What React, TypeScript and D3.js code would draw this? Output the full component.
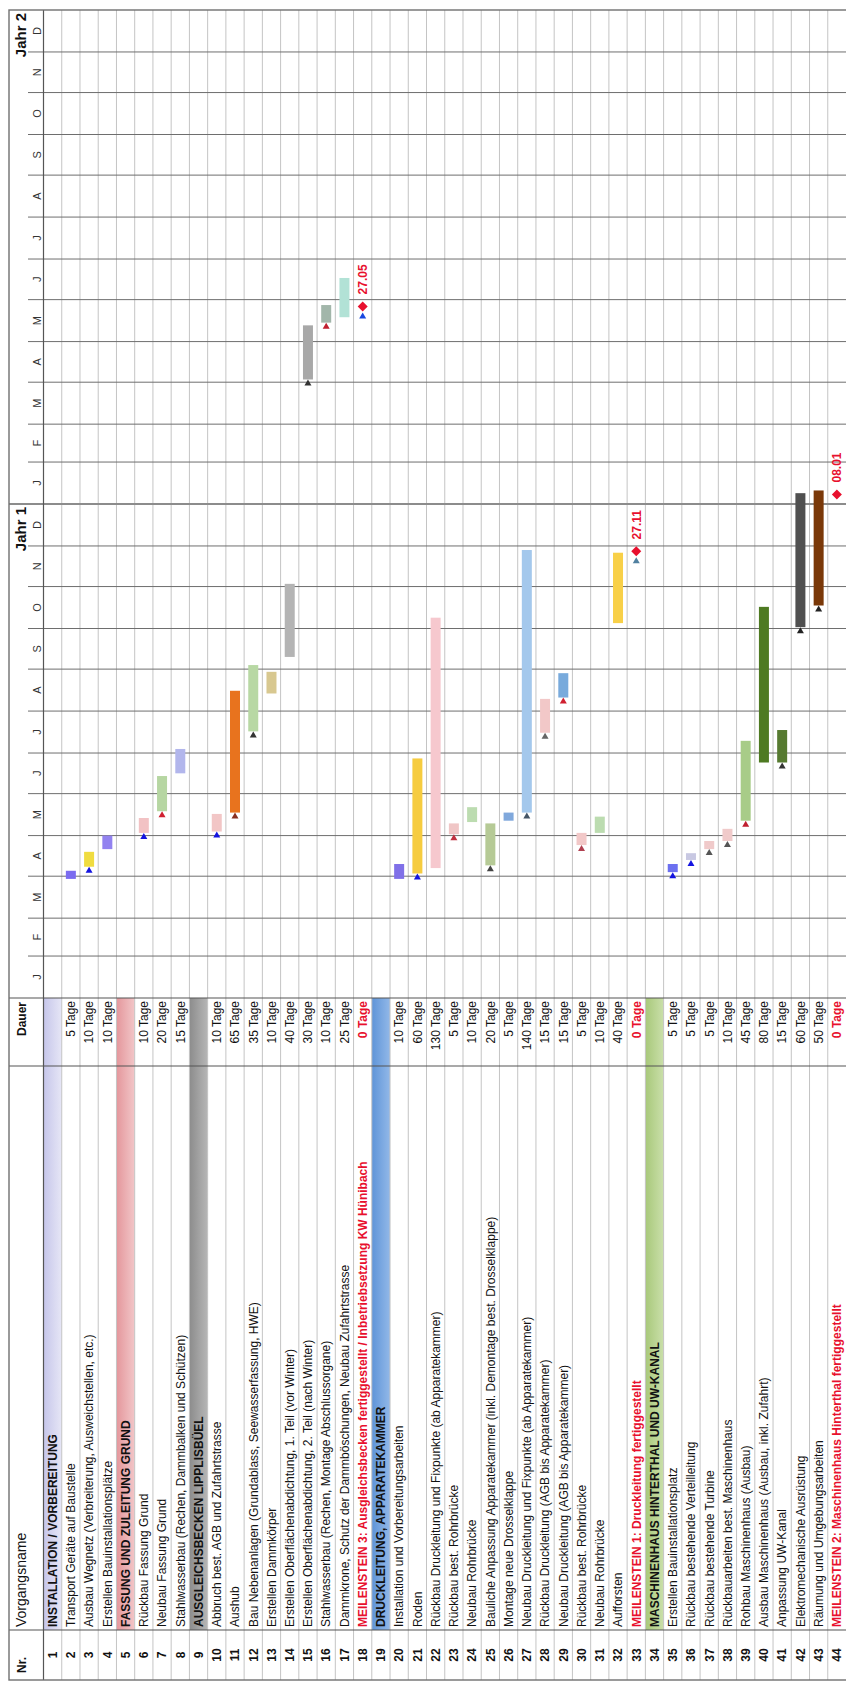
import React from "react";
import * as d3 from "d3";

const taskNames = [
  "INSTALLATION / VORBEREITUNG",
  "Transport Geräte auf Baustelle",
  "Ausbau Wegnetz (Verbreiterung, Ausweichstellen, etc.)",
  "Erstellen Bauinstallationsplätze",
  "FASSUNG UND ZULEITUNG GRUND",
  "Rückbau Fassung Grund",
  "Neubau Fassung Grund",
  "Stahlwasserbau (Rechen, Dammbalken und Schützen)",
  "AUSGLEICHSBECKEN LIPPLISBÜEL",
  "Abbruch best. AGB und Zufahrtstrasse",
  "Aushub",
  "Bau Nebenanlagen (Grundablass, Seewasserfassung, HWE)",
  "Erstellen Dammkörper",
  "Erstellen Oberflächenabdichtung, 1. Teil (vor Winter)",
  "Erstellen Oberflächenabdichtung, 2. Teil (nach Winter)",
  "Stahlwasserbau (Rechen, Montage Abschlussorgane)",
  "Dammkrone, Schutz der Dammböschungen, Neubau Zufahrtstrasse",
  "MEILENSTEIN 3: Ausgleichsbecken fertiggestellt / Inbetriebsetzung KW Hünibach",
  "DRUCKLEITUNG, APPARATEKAMMER",
  "Installation und Vorbereitungsarbeiten",
  "Roden",
  "Rückbau Druckleitung und Fixpunkte (ab Apparatekammer)",
  "Rückbau best. Rohrbrücke",
  "Neubau Rohrbrücke",
  "Bauliche Anpassung Apparatekammer (inkl. Demontage best. Drosselklappe)",
  "Montage neue Drosselklappe",
  "Neubau Druckleitung und Fixpunkte (ab Apparatekammer)",
  "Rückbau Druckleitung (AGB bis Apparatekammer)",
  "Neubau Druckleitung (AGB bis Apparatekammer)",
  "Rückbau best. Rohrbrücke",
  "Neubau Rohrbrücke",
  "Aufforsten",
  "MEILENSTEIN 1: Druckleitung fertiggestellt",
  "MASCHINENHAUS HINTERTHAL UND UW-KANAL",
  "Erstellen Bauinstallationsplatz",
  "Rückbau bestehende Verteilleitung",
  "Rückbau bestehende Turbine",
  "Rückbauarbeiten best. Maschinenhaus",
  "Rohbau Maschinenhaus (Ausbau)",
  "Ausbau Maschinenhaus (Ausbau, inkl. Zufahrt)",
  "Anpassung UW-Kanal",
  "Elektromechanische Ausrüstung",
  "Räumung und Umgebungsarbeiten",
  "MEILENSTEIN 2: Maschinenhaus Hinterthal fertiggestellt",
];

const rowKinds = [
  "g", "t", "t", "t", "g", "t", "t", "t", "g", "t", "t", "t", "t", "t", "t", "t", "t", "m",
  "g", "t", "t", "t", "t", "t", "t", "t", "t", "t", "t", "t", "t", "t", "m",
  "g", "t", "t", "t", "t", "t", "t", "t", "t", "t", "m",
];

const durations = [
  "", "5 Tage", "10 Tage", "10 Tage", "", "10 Tage", "20 Tage", "15 Tage", "",
  "10 Tage", "65 Tage", "35 Tage", "10 Tage", "40 Tage", "30 Tage", "10 Tage", "25 Tage", "0 Tage",
  "", "10 Tage", "60 Tage", "130 Tage", "5 Tage", "10 Tage", "20 Tage", "5 Tage", "140 Tage",
  "15 Tage", "15 Tage", "5 Tage", "10 Tage", "40 Tage", "0 Tage",
  "", "5 Tage", "5 Tage", "5 Tage", "10 Tage", "45 Tage", "80 Tage", "15 Tage", "60 Tage", "50 Tage", "0 Tage",
];

const barStarts = [
  null, "2021-03-30", "2021-04-08", "2021-04-21", null, "2021-05-03", "2021-05-19", "2021-06-16", null,
  "2021-05-04", "2021-05-18", "2021-07-17", "2021-08-14", "2021-09-10", "2022-04-03", "2022-05-15", "2022-05-19", "2022-05-27",
  null, "2021-03-30", "2021-04-03", "2021-04-07", "2021-05-02", "2021-05-11", "2021-04-09", "2021-05-12", "2021-05-18",
  "2021-07-16", "2021-08-11", "2021-04-24", "2021-05-03", "2021-10-05", "2021-11-27",
  null, "2021-04-04", "2021-04-13", "2021-04-21", "2021-04-27", "2021-05-12", "2021-06-24", "2021-06-24", "2021-10-02", "2021-10-18", "2022-01-08",
];

const barEnds = [
  null, "2021-04-05", "2021-04-19", "2021-05-01", null, "2021-05-14", "2021-06-14", "2021-07-04", null,
  "2021-05-17", "2021-08-16", "2021-09-04", "2021-08-30", "2021-11-03", "2022-05-13", "2022-05-28", "2022-06-17", null,
  null, "2021-04-10", "2021-06-27", "2021-10-09", "2021-05-10", "2021-05-22", "2021-05-10", "2021-05-18", "2021-11-28",
  "2021-08-10", "2021-08-29", "2021-05-03", "2021-05-15", "2021-11-26", null,
  null, "2021-04-10", "2021-04-18", "2021-04-27", "2021-05-06", "2021-07-10", "2021-10-17", "2021-07-18", "2022-01-09", "2022-01-11", null,
];

const barColors = [
  null, "#7b6cf0", "#f0dc40", "#9282f0", null, "#f2c2c4", "#b6d6a2", "#b2b6ec", null,
  "#f2c6c6", "#e8731e", "#b8d8a4", "#d8c890", "#b4b4b4", "#a8a8a8", "#a2b6aa", "#b2e2d6", null,
  null, "#8070e8", "#f6cc40", "#f6c8ce", "#f0c6c6", "#bcdcb0", "#b6ca96", "#80a8dc", "#a4c8ec",
  "#f2c8c8", "#78aadc", "#f2c8c8", "#bcdcb0", "#f8d048", null,
  null, "#6c70f0", "#c8c8e2", "#f0caca", "#f0caca", "#a8cc88", "#4e7a22", "#567a30", "#505050", "#7a3808", null,
];

const arrowColors = [
  null, null, "#1414e0", null, null, "#1414e0", "#d02030", null, null,
  "#1414e0", "#8a3020", "#333333", null, null, "#333333", "#c02030", null, "#1848e0",
  null, null, "#1414e0", null, "#c03040", null, "#444444", null, "#445566",
  "#666666", "#d02030", "#b04050", null, null, "#5080a0",
  null, "#1414e0", "#1414e0", "#555555", "#555555", "#c02030", null, "#333333", "#222222", "#222222", null,
];

const groupColorsDark = ["#c6c6ea", "#e4979c", "#8c8c8c", "#5e94d8", "#a8c87a"];
const groupColorsLight = ["#e6e6f6", "#f2c6c8", "#b6b6b6", "#92b8e8", "#cadfaa"];

const monthLabels = ["J", "F", "M", "A", "M", "J", "J", "A", "S", "O", "N", "D"];
const yearLabels = ["Jahr 1", "Jahr 2"];

const headerLabels = ["Nr.", "Vorgangsname", "Dauer"];

const W = 1684;
const H = 846;
const FONT = "'Liberation Sans', Arial, Helvetica, sans-serif";

export default function App() {
  const xNr0 = 4;
  const xName0 = 54;
  const xDauer0 = 618;
  const xTime0 = 686;
  const xTime1 = 1674;
  const yTop = 9;
  const yMonth = 28;
  const yHead = 43.5;
  const rowH = (H - yHead) / 44;

  const parse = d3.timeParse("%Y-%m-%d");
  const fmt = d3.timeFormat("%d.%m");
  const x = d3
    .scaleTime()
    .domain([new Date(2021, 0, 1), new Date(2023, 0, 1)])
    .range([xTime0, xTime1]);
  const rowTop = (i: number) => yHead + i * rowH;
  const rowMid = (i: number) => yHead + (i + 0.5) * rowH;

  const monthStarts = d3.timeMonth.range(new Date(2021, 0, 1), new Date(2023, 0, 1));
  const yearStarts = d3.timeYear.range(new Date(2021, 0, 1), new Date(2023, 0, 1));

  let gi = 0;
  const groupIdx = rowKinds.map((k) => (k === "g" ? gi++ : -1));

  const barH = 10;

  return (
    <svg
      width={846}
      height={1684}
      style={{ position: "absolute", left: 0, top: 0, background: "#fff" }}
      fontFamily={FONT}
    >
      <defs>
        {groupColorsDark.map((c, k) => (
          <linearGradient key={k} id={`gg${k}`} x1="0" y1="0" x2="0" y2="1">
            <stop offset="0" stopColor={c} />
            <stop offset="1" stopColor={groupColorsLight[k]} />
          </linearGradient>
        ))}
      </defs>
      <rect x={0} y={0} width={846} height={1684} fill="#fff" />
      <g transform={`translate(0,${W}) rotate(-90)`}>
        {/* group bands */}
        {rowKinds.map((k, i) =>
          k === "g" ? (
            <rect
              key={`gb${i}`}
              x={xName0}
              y={rowTop(i)}
              width={xTime0 - xName0}
              height={rowH}
              fill={`url(#gg${groupIdx[i]})`}
            />
          ) : null
        )}

        {/* row lines */}
        {d3.range(1, 44).map((i) => (
          <line
            key={`rl${i}`}
            x1={xNr0}
            x2={xTime1}
            y1={rowTop(i)}
            y2={rowTop(i)}
            stroke="#c4c4c4"
            strokeWidth={1}
          />
        ))}

        {/* month lines */}
        {monthStarts.slice(1).map((m, k) => {
          const isYear = m.getMonth() === 0;
          return (
            <line
              key={`ml${k}`}
              x1={x(m)}
              x2={x(m)}
              y1={isYear ? yTop : yMonth}
              y2={H}
              stroke={isYear ? "#8c8c8c" : "#6e6e6e"}
              strokeWidth={isYear ? 2 : 1}
            />
          );
        })}

        {/* column separators */}
        {[xName0, xDauer0, xTime0].map((c, k) => (
          <line key={`cs${k}`} x1={c} x2={c} y1={yTop} y2={H} stroke="#555" strokeWidth={1.2} />
        ))}
        <line x1={xNr0} x2={xTime1} y1={yHead} y2={yHead} stroke="#555" strokeWidth={1.2} />
        <line x1={xTime0} x2={xTime1} y1={yMonth} y2={yMonth} stroke="#bbb" strokeWidth={0} />
        <rect
          x={xNr0}
          y={yTop}
          width={xTime1 - xNr0}
          height={H - yTop + 5}
          fill="none"
          stroke="#707070"
          strokeWidth={1.4}
        />

        {/* header labels */}
        <text x={xNr0 + 7} y={25.5} fontSize={12} fontWeight="bold" fill="#111">
          {headerLabels[0]}
        </text>
        <text x={xName0 + 3} y={25.5} fontSize={14} fill="#111">
          {headerLabels[1]}
        </text>
        <text x={xTime0 - 4} y={25.5} fontSize={12} fontWeight="bold" fill="#111" textAnchor="end">
          {headerLabels[2]}
        </text>

        {/* timeline header */}
        {yearStarts.map((ys, k) => (
          <text
            key={`yl${k}`}
            x={x(d3.timeYear.offset(ys, 1)) - 3}
            y={26}
            fontSize={15}
            fontWeight="bold"
            fill="#111"
            textAnchor="end"
          >
            {yearLabels[k]}
          </text>
        ))}
        {monthStarts.map((m, k) => (
          <text
            key={`mt${k}`}
            x={(x(m) + x(d3.timeMonth.offset(m, 1))) / 2}
            y={41}
            fontSize={11}
            fill="#333"
            textAnchor="middle"
          >
            {monthLabels[m.getMonth()]}
          </text>
        ))}

        {/* table text */}
        {taskNames.map((name, i) => {
          const k = rowKinds[i];
          return (
            <g key={`tx${i}`}>
              <text
                x={xNr0 + 25}
                y={rowMid(i) + 4.3}
                fontSize={12}
                fontWeight="bold"
                textAnchor="middle"
                fill="#111"
              >
                {i + 1}
              </text>
              <text
                x={xName0 + 3}
                y={rowMid(i) + 4.3}
                fontSize={12}
                fontWeight={k === "t" ? "normal" : "bold"}
                fill={k === "m" ? "#e8102e" : "#111"}
              >
                {name}
              </text>
              {durations[i] ? (
                <text
                  x={xTime0 - 3}
                  y={rowMid(i) + 4.3}
                  fontSize={12}
                  fontWeight={k === "m" ? "bold" : "normal"}
                  textAnchor="end"
                  fill={k === "m" ? "#e8102e" : "#111"}
                >
                  {durations[i]}
                </text>
              ) : null}
            </g>
          );
        })}

        {/* bars */}
        {rowKinds.map((k, i) => {
          if (k !== "t") return null;
          const s = x(parse(barStarts[i] as string) as Date);
          const e = x(parse(barEnds[i] as string) as Date);
          return (
            <rect
              key={`b${i}`}
              x={s}
              y={rowMid(i) - barH / 2}
              width={Math.max(2, e - s)}
              height={barH}
              fill={barColors[i] as string}
            />
          );
        })}

        {/* link arrows */}
        {arrowColors.map((c, i) => {
          if (!c || !barStarts[i]) return null;
          const s = x(parse(barStarts[i] as string) as Date);
          const ym = rowMid(i);
          const tip = rowKinds[i] === "m" ? s - 6 : s;
          return (
            <path
              key={`a${i}`}
              d={`M${tip - 6},${ym - 3.5}L${tip},${ym}L${tip - 6},${ym + 3.5}Z`}
              fill={c}
            />
          );
        })}

        {/* milestones */}
        {rowKinds.map((k, i) => {
          if (k !== "m") return null;
          const d = parse(barStarts[i] as string) as Date;
          const cx = x(d);
          const cy = rowMid(i);
          return (
            <g key={`m${i}`}>
              <path
                d={`M${cx},${cy - 5}L${cx + 5},${cy}L${cx},${cy + 5}L${cx - 5},${cy}Z`}
                fill="#e8102e"
              />
              <text x={cx + 12} y={cy + 4.3} fontSize={12} fontWeight="bold" fill="#e8102e">
                {fmt(d)}
              </text>
            </g>
          );
        })}
      </g>
    </svg>
  );
}
